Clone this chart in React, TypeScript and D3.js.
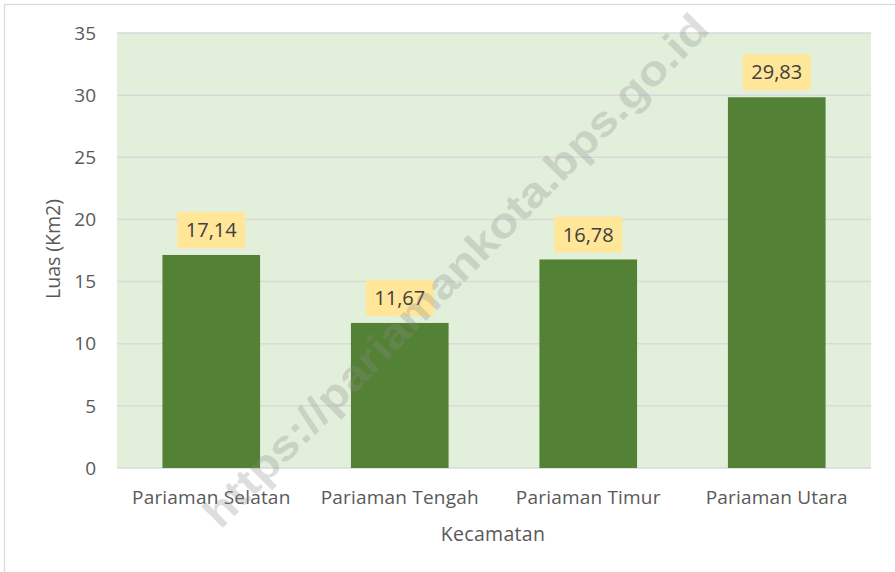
import React from "react";
import * as d3 from "d3";

const categories = ["Pariaman Selatan", "Pariaman Tengah", "Pariaman Timur", "Pariaman Utara"];
const values = [17.14, 11.67, 16.78, 29.83];
const valueLabels = ["17,14", "11,67", "16,78", "29,83"];
const yTicks = [0, 5, 10, 15, 20, 25, 30, 35];
const xTitle = "Kecamatan";
const yTitle = "Luas (Km2)";
const watermark = "https://pariamankota.bps.go.id";

const W = 895;
const H = 572;
const plot = { left: 117, right: 871, top: 33, bottom: 468 };
const FONT = "'Open Sans', 'Noto Sans', sans-serif";

export default function App() {
  const x = d3.scaleBand<string>().domain(categories).range([plot.left, plot.right]).padding(0);
  const y = d3.scaleLinear().domain([0, 35]).range([plot.bottom, plot.top]);
  const barW = x.bandwidth() * 0.518;
  const boxW = 68;
  const boxH = 36;

  return (
    <svg width={W} height={H} style={{ position: "absolute", left: 0, top: 0, background: "#fff" }} fontFamily={FONT}>
      <rect x={4.5} y={4.5} width={W + 10} height={H + 10} fill="#fff" stroke="#d9d9d9" strokeWidth={1.2} />
      <rect x={plot.left} y={plot.top} width={plot.right - plot.left} height={plot.bottom - plot.top} fill="#E2EFDA" />
      {yTicks.map((t) => (
        <g key={t}>
          <line x1={plot.left} x2={plot.right} y1={y(t)} y2={y(t)} stroke="#D9D9D9" strokeWidth={1.5} />
          <text x={96} y={y(t)} dy="0.35em" textAnchor="end" fontSize={19} fill="#595959">
            {t}
          </text>
        </g>
      ))}
      {categories.map((c, i) => {
        const cx = (x(c) as number) + x.bandwidth() / 2;
        const top = y(values[i]);
        return (
          <g key={c}>
            <rect x={cx - barW / 2} y={top} width={barW} height={y(0) - top} fill="#538135" />
            <rect x={cx - boxW / 2} y={top - 7 - boxH} width={boxW} height={boxH} fill="#FFE699" />
            <text x={cx} y={top - 7 - boxH / 2} dy="0.36em" textAnchor="middle" fontSize={20} fill="#404040">
              {valueLabels[i]}
            </text>
            <text x={cx} y={497} dy="0.36em" textAnchor="middle" fontSize={19} letterSpacing={0.2} fill="#595959">
              {c}
            </text>
          </g>
        );
      })}
      <text x={493} y={534} dy="0.36em" textAnchor="middle" fontSize={19.5} letterSpacing={0.3} fill="#595959">
        {xTitle}
      </text>
      <text
        transform={`translate(53,249) rotate(-90)`}
        dy="0.36em"
        textAnchor="middle"
        fontSize={19.5}
        fill="#595959"
      >
        {yTitle}
      </text>
      <text
        transform={`translate(455,270) rotate(-45.5)`}
        dy="0.36em"
        textAnchor="middle"
        fontSize={42}
        fontWeight="bold"
        fontFamily="'Liberation Sans', Arial, sans-serif"
        fill="rgb(140,140,140)"
        fillOpacity={0.3}
        textLength={700}
        lengthAdjust="spacingAndGlyphs"
      >
        {watermark}
      </text>
    </svg>
  );
}
